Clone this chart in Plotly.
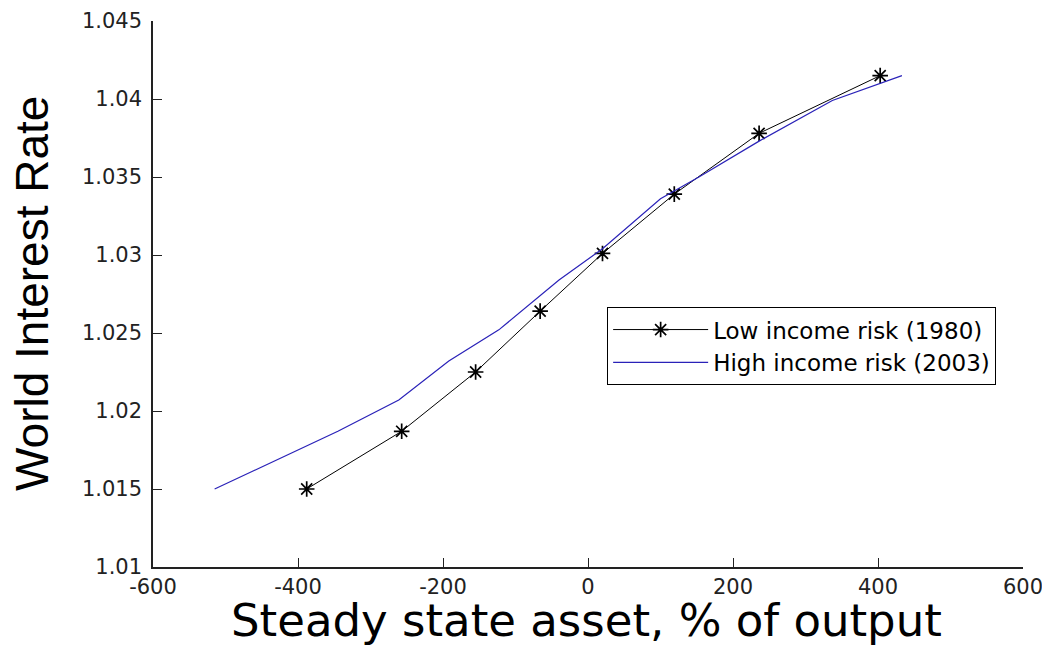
import plotly.graph_objects as go

# Low income risk (1980) – black line with star markers
low_x = [-388, -257, -155, -66, 20, 119, 236, 403]
low_y = [1.0150, 1.0187, 1.0225, 1.0264, 1.0301, 1.0339, 1.0378, 1.0415]

# High income risk (2003) – blue line
high_x = [-515, -345, -261, -192, -123, -40, 20, 100, 153, 236, 337, 433]
high_y = [1.0150, 1.0187, 1.0207, 1.0232, 1.0252, 1.0284, 1.0304, 1.0336, 1.0350, 1.0373, 1.0399, 1.0415]

x_ticks = [-600, -400, -200, 0, 200, 400, 600]
x_ticktext = ["-600", "-400", "-200", "0", "200", "400", "600"]
y_ticks = [1.01, 1.015, 1.02, 1.025, 1.03, 1.035, 1.04, 1.045]
y_ticktext = ["1.01", "1.015", "1.02", "1.025", "1.03", "1.035", "1.04", "1.045"]

x_title = "Steady state asset, % of output"
y_title = "World Interest Rate"

fig = go.Figure()
fig.add_trace(go.Scatter(
    x=low_x, y=low_y, mode="lines+markers", name="Low income risk (1980)",
    line=dict(color="black", width=1),
    marker=dict(symbol="asterisk-open", size=13, color="black",
                line=dict(color="black", width=1.7)),
))
fig.add_trace(go.Scatter(
    x=high_x, y=high_y, mode="lines", name="High income risk (2003)",
    line=dict(color="#2a22b8", width=1.2),
))

axis_common = dict(
    showline=True, linecolor="#222", linewidth=1.5, mirror=False,
    ticks="inside", ticklen=9, tickwidth=1.3, tickcolor="#222",
    showgrid=False, zeroline=False,
    tickfont=dict(family="DejaVu Sans", size=21, color="#222"),
)

fig.update_layout(
    width=1050, height=649,
    margin=dict(l=145, r=35, t=13, b=90),
    paper_bgcolor="white", plot_bgcolor="white",
    font=dict(family="Liberation Sans", color="black"),
    showlegend=True,
    legend=dict(
        x=0.522, y=0.476, xanchor="left", yanchor="top",
        bgcolor="white", bordercolor="black", borderwidth=1,
        font=dict(family="DejaVu Sans", size=23, color="black"),
        itemwidth=95,
        tracegroupgap=0,
    ),
    xaxis=dict(
        range=[-600, 600], tickvals=x_ticks, ticktext=x_ticktext,
        automargin=False,
        **axis_common,
    ),
    yaxis=dict(
        range=[1.01, 1.045], tickvals=y_ticks, ticktext=y_ticktext,
        ticklabelstandoff=5,
        automargin=False,
        **axis_common,
    ),
    annotations=[
        dict(text=x_title, xref="paper", yref="paper", x=0.5, y=0,
             xanchor="center", yanchor="top", yshift=-25, xshift=-2,
             showarrow=False,
             font=dict(family="DejaVu Sans", size=45, color="black")),
        dict(text=y_title, xref="paper", yref="paper", x=0, y=0.5,
             xanchor="center", yanchor="middle", xshift=-121,
             textangle=-90, showarrow=False,
             font=dict(family="Liberation Sans", size=46, color="black")),
    ],
)

fig.write_html("out.html")
